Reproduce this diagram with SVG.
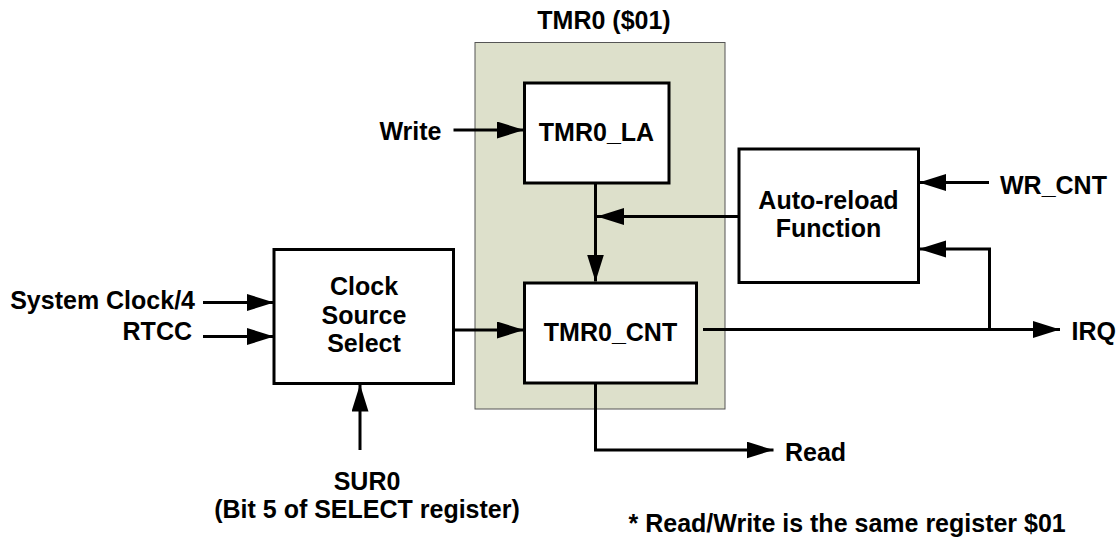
<svg xmlns="http://www.w3.org/2000/svg" width="1119" height="539" viewBox="0 0 1119 539">
<style>
text{font-family:"Liberation Sans",Arial,sans-serif;font-weight:bold;font-size:25px;fill:#000}
.m{text-anchor:middle}
.e{text-anchor:end}
.box{fill:#fff;stroke:#000;stroke-width:3}
.ln{fill:none;stroke:#000;stroke-width:3}
.arr{marker-end:url(#ah)}
</style>
<defs>
<marker id="ah" markerUnits="userSpaceOnUse" markerWidth="28" markerHeight="18" refX="27" refY="8.5" orient="auto">
<path d="M0,0 L27,8.5 L0,17 Z" fill="#000"/>
</marker>
</defs>
<rect width="1119" height="539" fill="#fff"/>
<g id="tmr0">
<rect x="475" y="42.5" width="250" height="366.5" fill="#dde0cb" stroke="#555" stroke-width="1"/>
<text class="m" x="604" y="29">TMR0 ($01)</text>
</g>
<g id="tmr0_la">
<rect class="box" x="524.5" y="83" width="144.5" height="100"/>
<text class="m" x="596.5" y="141">TMR0_LA</text>
</g>
<g id="tmr0_cnt">
<rect class="box" x="524.5" y="283" width="172" height="100"/>
<text class="m" x="610.5" y="341">TMR0_CNT</text>
</g>
<g id="clock_select">
<rect class="box" x="274" y="249.5" width="179.5" height="134"/>
<text class="m" x="364" y="295">Clock</text>
<text class="m" x="364" y="323.5">Source</text>
<text class="m" x="364" y="352">Select</text>
</g>
<g id="auto_reload">
<rect class="box" x="739" y="149" width="179.5" height="133.5"/>
<text class="m" x="828.5" y="209">Auto-reload</text>
<text class="m" x="828.5" y="237">Function</text>
</g>
<g id="labels">
<text x="441.5" y="139.5" class="e">Write</text>
<text x="195" y="308.5" class="e">System Clock/4</text>
<text x="192" y="340" class="e">RTCC</text>
<text x="367" y="490" class="m">SUR0</text>
<text x="367" y="518" class="m">(Bit 5 of SELECT register)</text>
<text x="1000" y="193.5">WR_CNT</text>
<text x="1071.5" y="339.5">IRQ</text>
<text x="785" y="461">Read</text>
<text x="628.5" y="531.5">* Read/Write is the same register $01</text>
</g>
<g id="connectors">
<line class="ln arr" x1="453.5" y1="130" x2="524" y2="130"/>
<line class="ln arr" x1="595.5" y1="183" x2="595.5" y2="281.5"/>
<line class="ln arr" x1="739" y1="216.5" x2="597" y2="216.5"/>
<line class="ln arr" x1="203" y1="302.5" x2="274" y2="302.5"/>
<line class="ln arr" x1="203" y1="336.5" x2="274" y2="336.5"/>
<line class="ln arr" x1="360" y1="450" x2="360" y2="384.5"/>
<line class="ln arr" x1="454" y1="330" x2="524" y2="330"/>
<line class="ln arr" x1="703" y1="329.5" x2="1060" y2="329.5"/>
<polyline class="ln arr" points="989.5,329.5 989.5,249 919,249"/>
<line class="ln arr" x1="989" y1="182.5" x2="919" y2="182.5"/>
<polyline class="ln arr" points="595.5,383 595.5,450 773.5,450"/>
</g>
</svg>
